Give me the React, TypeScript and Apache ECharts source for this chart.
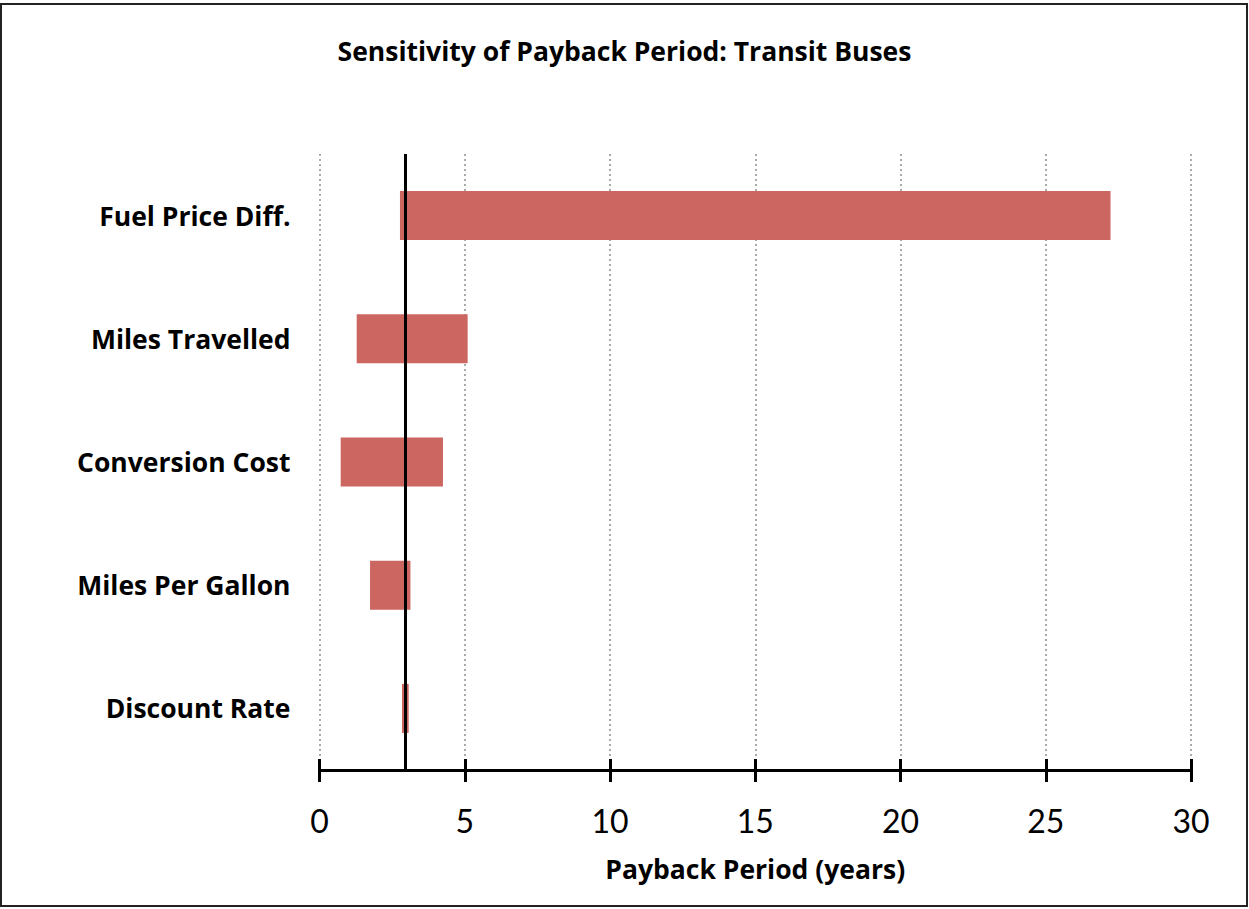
import React, { useEffect, useRef } from "react";
import * as echarts from "echarts";

const categories = [
  "Fuel Price Diff.",
  "Miles Travelled",
  "Conversion Cost",
  "Miles Per Gallon",
  "Discount Rate",
];
const lowValues = [2.77, 1.28, 0.73, 1.74, 2.84];
const highValues = [27.23, 5.1, 4.25, 3.13, 3.07];
const baselineValue = 2.95;
const xTicks = { min: 0, max: 30, interval: 5 };

export default function App() {
  const ref = useRef<HTMLDivElement>(null);
  useEffect(() => {
    if (!ref.current) return;
    const chart = echarts.init(ref.current, null, { renderer: "svg" });
    const font = "Lato, 'Open Sans', sans-serif";
    const boldFont = "'Open Sans', Lato, sans-serif";
    chart.setOption({
      animation: false,
      backgroundColor: "#ffffff",
      title: {
        text: "Sensitivity of Payback Period: Transit Buses",
        left: "center",
        top: 32,
        textStyle: { fontFamily: boldFont, fontSize: 26.5, fontWeight: "bold", color: "#000" },
      },
      graphic: [
        {
          type: "rect",
          shape: { x: 1, y: 4, width: 1246, height: 902 },
          style: { fill: "none", stroke: "#222", lineWidth: 2 },
          silent: true,
        },
      ],
      grid: { left: 319.5, right: 58, top: 154, bottom: 139, containLabel: false },
      xAxis: [
        {
          type: "value",
          min: xTicks.min,
          max: xTicks.max,
          interval: xTicks.interval,
          name: "Payback Period (years)",
          nameLocation: "middle",
          nameGap: 85,
          nameTextStyle: { fontFamily: boldFont, fontSize: 26.5, fontWeight: "bold", color: "#000" },
          axisLine: { show: true, lineStyle: { color: "#000", width: 3 } },
          axisTick: { show: true, length: 12, lineStyle: { color: "#000", width: 3 } },
          axisLabel: { fontFamily: font, fontSize: 32, color: "#000", margin: 34, lineHeight: 32 },
          splitLine: { show: true, lineStyle: { color: "#aaa", width: 2, type: [2, 3] } },
        },
        {
          type: "value",
          min: xTicks.min,
          max: xTicks.max,
          interval: xTicks.interval,
          position: "bottom",
          axisLine: { show: false },
          axisTick: { show: true, inside: true, length: 11, lineStyle: { color: "#000", width: 3 } },
          axisLabel: { show: false },
          splitLine: { show: false },
        },
      ],
      yAxis: {
        type: "category",
        inverse: true,
        data: categories,
        axisLine: { show: false },
        axisTick: { show: false },
        axisLabel: { fontFamily: boldFont, fontSize: 26.5, fontWeight: "bold", color: "#000", margin: 29 },
      },
      series: [
        {
          name: "base",
          type: "bar",
          stack: "range",
          barWidth: 49,
          itemStyle: { color: "transparent" },
          silent: true,
          data: lowValues,
        },
        {
          name: "range",
          type: "bar",
          stack: "range",
          barWidth: 49,
          itemStyle: { color: "#CC6660" },
          data: highValues.map((h, i) => +(h - lowValues[i]).toFixed(3)),
          markLine: {
            silent: true,
            symbol: "none",
            label: { show: false },
            lineStyle: { color: "#000", width: 3, type: "solid" },
            data: [{ xAxis: baselineValue }],
          },
        },
      ],
    });
    return () => chart.dispose();
  }, []);
  return (
    <div
      ref={ref}
      style={{ position: "absolute", left: 0, top: 0, width: 1249, height: 909 }}
    />
  );
}
